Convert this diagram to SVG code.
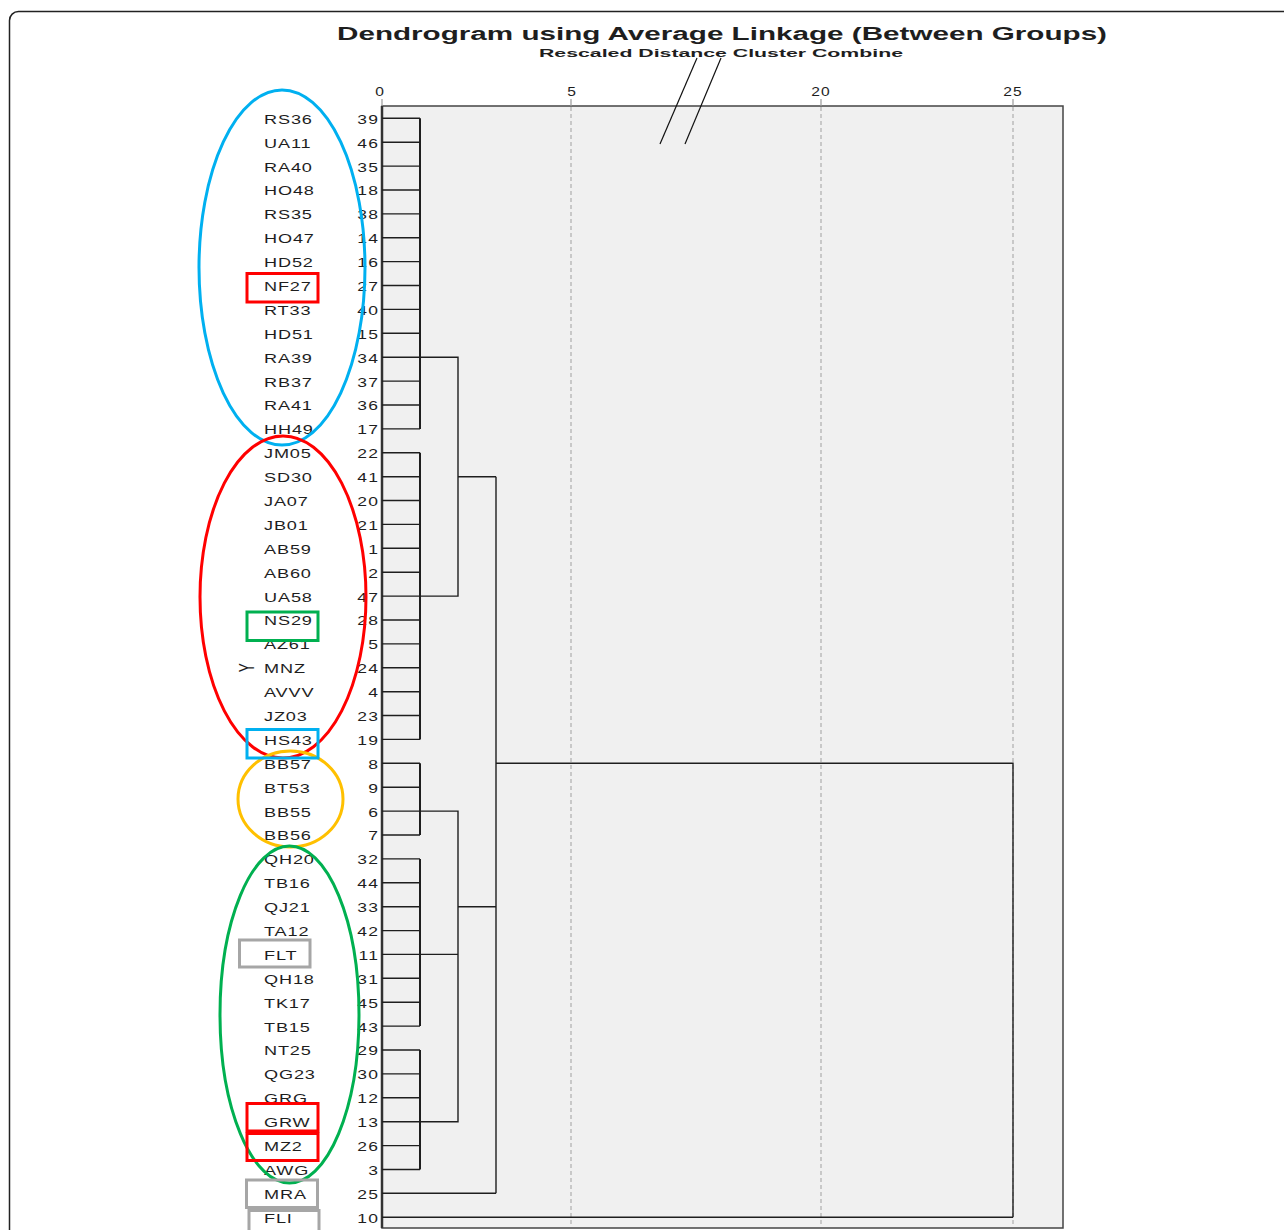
<svg xmlns="http://www.w3.org/2000/svg" width="1284" height="1230" viewBox="0 0 1284 1230">
  <style>
    text { font-family: "Liberation Sans", Arial, sans-serif; fill: #1e1e1e; }
    .title { font-size: 18px; font-weight: bold; }
    .sub { font-size: 11px; font-weight: bold; }
    .lbl { font-size: 12.5px; letter-spacing: 0.6px; transform: translate(264px, 0) scale(1.45, 1); }
    .num { font-size: 12.5px; letter-spacing: 0.8px; text-anchor: end; transform: translate(379px, 0) scale(1.4, 1); }
    .tick { font-size: 12px; letter-spacing: 0.8px; text-anchor: middle; }
    .grid { stroke: #c8c8c8; stroke-width: 2; stroke-dasharray: 4 3; fill: none; }
    .tk { stroke: #9a9a9a; stroke-width: 1.2; }
    .ln { stroke: #1e1e1e; stroke-width: 1.4; fill: none; }
    .vln { stroke: #1e1e1e; stroke-width: 2; fill: none; }
    .ring { fill: none; stroke-width: 3; }
    .tag { fill: none; stroke-width: 3; }
  </style>

  <!-- page frame -->
  <rect x="9.5" y="11.5" width="1300" height="1250" rx="9" fill="#ffffff" stroke="#222" stroke-width="1.5"/>

  <!-- headings -->
  <text class="title" x="337" y="39.5" textLength="770" lengthAdjust="spacingAndGlyphs">Dendrogram using Average Linkage (Between Groups)</text>
  <text class="sub" x="539" y="57" textLength="364" lengthAdjust="spacingAndGlyphs">Rescaled Distance Cluster Combine</text>

  <!-- plot area -->
  <g id="plot">
    <rect x="382" y="106" width="681" height="1122" fill="#f0f0f0" stroke="#444" stroke-width="1.5"/>
    <line x1="382" y1="106" x2="382" y2="1228" stroke="#333" stroke-width="2.5"/>
    <line class="grid" x1="571" y1="107" x2="571" y2="1227"/>
    <line class="grid" x1="821" y1="107" x2="821" y2="1227"/>
    <line class="grid" x1="1013" y1="107" x2="1013" y2="1227"/>
    <line class="tk" x1="382" y1="99" x2="382" y2="106"/>
    <line class="tk" x1="571" y1="99" x2="571" y2="106"/>
    <line class="tk" x1="821" y1="99" x2="821" y2="106"/>
    <line class="tk" x1="1013" y1="99" x2="1013" y2="106"/>
    <text class="tick" transform="translate(380 96) scale(1.3 1)">0</text>
    <text class="tick" transform="translate(572 96) scale(1.3 1)">5</text>
    <text class="tick" transform="translate(821 96) scale(1.3 1)">20</text>
    <text class="tick" transform="translate(1013 96) scale(1.3 1)">25</text>
  </g>

  <!-- axis break marks -->
  <g id="axis-break" stroke="#111" stroke-width="1.2">
    <line x1="697" y1="58" x2="660" y2="144"/>
    <line x1="721" y1="58" x2="685" y2="144"/>
  </g>

  <!-- dendrogram links -->
  <g id="connectors">
    <path class="ln" d="M382 118.3H420M382 142.2H420M382 166.1H420M382 190H420M382 213.9H420M382 237.8H420M382 261.6H420M382 285.5H420M382 309.4H420M382 333.3H420M382 357.2H420M382 381.1H420M382 405H420M382 428.9H420"/>
    <path class="ln" d="M382 452.8H420M382 476.7H420M382 500.5H420M382 524.4H420M382 548.3H420M382 572.2H420M382 596.1H420M382 620H420M382 643.9H420M382 667.8H420M382 691.7H420M382 715.5H420M382 739.4H420"/>
    <path class="ln" d="M382 763.3H420M382 787.2H420M382 811.1H420M382 835H420"/>
    <path class="ln" d="M382 858.9H420M382 882.8H420M382 906.7H420M382 930.6H420M382 954.4H420M382 978.3H420M382 1002.2H420M382 1026.1H420"/>
    <path class="ln" d="M382 1050H420M382 1073.9H420M382 1097.8H420M382 1121.7H420M382 1145.6H420M382 1169.5H420"/>
    <path class="ln" d="M382 1193.3H496M382 1217.2H1013"/>
    <path class="vln" d="M420 118.3V428.9M420 452.8V739.4M420 763.3V835M420 858.9V1026.1M420 1050V1169.5"/>
    <path class="ln" d="M420 357.2H458V596.1H420M458 476.7H496"/>
    <path class="ln" d="M420 811.1H458V1121.7H420M420 954.4H458M458 906.7H496"/>
    <path class="ln" d="M496 476.7V1193.3M496 763.3H1013V1217.2"/>
  </g>

  <!-- leaves: case label and case number -->
  <g id="leaves">
    <g id="leaf-RS36"><text class="lbl" y="123.8">RS36</text><text class="num" y="123.8">39</text></g>
    <g id="leaf-UA11"><text class="lbl" y="147.7">UA11</text><text class="num" y="147.7">46</text></g>
    <g id="leaf-RA40"><text class="lbl" y="171.6">RA40</text><text class="num" y="171.6">35</text></g>
    <g id="leaf-HO48"><text class="lbl" y="195.5">HO48</text><text class="num" y="195.5">18</text></g>
    <g id="leaf-RS35"><text class="lbl" y="219.4">RS35</text><text class="num" y="219.4">38</text></g>
    <g id="leaf-HO47"><text class="lbl" y="243.3">HO47</text><text class="num" y="243.3">14</text></g>
    <g id="leaf-HD52"><text class="lbl" y="267.1">HD52</text><text class="num" y="267.1">16</text></g>
    <g id="leaf-NF27"><text class="lbl" y="291">NF27</text><text class="num" y="291">27</text></g>
    <g id="leaf-RT33"><text class="lbl" y="314.9">RT33</text><text class="num" y="314.9">40</text></g>
    <g id="leaf-HD51"><text class="lbl" y="338.8">HD51</text><text class="num" y="338.8">15</text></g>
    <g id="leaf-RA39"><text class="lbl" y="362.7">RA39</text><text class="num" y="362.7">34</text></g>
    <g id="leaf-RB37"><text class="lbl" y="386.6">RB37</text><text class="num" y="386.6">37</text></g>
    <g id="leaf-RA41"><text class="lbl" y="410.5">RA41</text><text class="num" y="410.5">36</text></g>
    <g id="leaf-HH49"><text class="lbl" y="434.4">HH49</text><text class="num" y="434.4">17</text></g>
    <g id="leaf-JM05"><text class="lbl" y="458.3">JM05</text><text class="num" y="458.3">22</text></g>
    <g id="leaf-SD30"><text class="lbl" y="482.2">SD30</text><text class="num" y="482.2">41</text></g>
    <g id="leaf-JA07"><text class="lbl" y="506">JA07</text><text class="num" y="506">20</text></g>
    <g id="leaf-JB01"><text class="lbl" y="529.9">JB01</text><text class="num" y="529.9">21</text></g>
    <g id="leaf-AB59"><text class="lbl" y="553.8">AB59</text><text class="num" y="553.8">1</text></g>
    <g id="leaf-AB60"><text class="lbl" y="577.7">AB60</text><text class="num" y="577.7">2</text></g>
    <g id="leaf-UA58"><text class="lbl" y="601.6">UA58</text><text class="num" y="601.6">47</text></g>
    <g id="leaf-NS29"><text class="lbl" y="625.5">NS29</text><text class="num" y="625.5">28</text></g>
    <g id="leaf-AZ61"><text class="lbl" y="649.4">AZ61</text><text class="num" y="649.4">5</text></g>
    <g id="leaf-MNZ"><text class="lbl" y="673.3">MNZ</text><text class="num" y="673.3">24</text></g>
    <g id="leaf-AVVV"><text class="lbl" y="697.2">AVVV</text><text class="num" y="697.2">4</text></g>
    <g id="leaf-JZ03"><text class="lbl" y="721">JZ03</text><text class="num" y="721">23</text></g>
    <g id="leaf-HS43"><text class="lbl" y="744.9">HS43</text><text class="num" y="744.9">19</text></g>
    <g id="leaf-BB57"><text class="lbl" y="768.8">BB57</text><text class="num" y="768.8">8</text></g>
    <g id="leaf-BT53"><text class="lbl" y="792.7">BT53</text><text class="num" y="792.7">9</text></g>
    <g id="leaf-BB55"><text class="lbl" y="816.6">BB55</text><text class="num" y="816.6">6</text></g>
    <g id="leaf-BB56"><text class="lbl" y="840.5">BB56</text><text class="num" y="840.5">7</text></g>
    <g id="leaf-QH20"><text class="lbl" y="864.4">QH20</text><text class="num" y="864.4">32</text></g>
    <g id="leaf-TB16"><text class="lbl" y="888.3">TB16</text><text class="num" y="888.3">44</text></g>
    <g id="leaf-QJ21"><text class="lbl" y="912.2">QJ21</text><text class="num" y="912.2">33</text></g>
    <g id="leaf-TA12"><text class="lbl" y="936.1">TA12</text><text class="num" y="936.1">42</text></g>
    <g id="leaf-FLT"><text class="lbl" y="959.9">FLT</text><text class="num" y="959.9">11</text></g>
    <g id="leaf-QH18"><text class="lbl" y="983.8">QH18</text><text class="num" y="983.8">31</text></g>
    <g id="leaf-TK17"><text class="lbl" y="1007.7">TK17</text><text class="num" y="1007.7">45</text></g>
    <g id="leaf-TB15"><text class="lbl" y="1031.6">TB15</text><text class="num" y="1031.6">43</text></g>
    <g id="leaf-NT25"><text class="lbl" y="1055.5">NT25</text><text class="num" y="1055.5">29</text></g>
    <g id="leaf-QG23"><text class="lbl" y="1079.4">QG23</text><text class="num" y="1079.4">30</text></g>
    <g id="leaf-GRG"><text class="lbl" y="1103.3">GRG</text><text class="num" y="1103.3">12</text></g>
    <g id="leaf-GRW"><text class="lbl" y="1127.2">GRW</text><text class="num" y="1127.2">13</text></g>
    <g id="leaf-MZ2"><text class="lbl" y="1151.1">MZ2</text><text class="num" y="1151.1">26</text></g>
    <g id="leaf-AWG"><text class="lbl" y="1175">AWG</text><text class="num" y="1175">3</text></g>
    <g id="leaf-MRA"><text class="lbl" y="1198.8">MRA</text><text class="num" y="1198.8">25</text></g>
    <g id="leaf-FLI"><text class="lbl" y="1222.7">FLI</text><text class="num" y="1222.7">10</text></g>
  </g>

  <!-- sideways mark next to MNZ -->
  <text id="mark-y" x="0" y="0" font-size="15" text-anchor="middle" transform="translate(254 667.8) rotate(-90) scale(0.9 1.45)">Y</text>

  <!-- group rings -->
  <g id="groups">
    <ellipse id="group-blue" class="ring" cx="282" cy="267.5" rx="83" ry="177.5" stroke="#00b0f0"/>
    <ellipse id="group-red" class="ring" cx="283" cy="597" rx="83" ry="161" stroke="#ff0000"/>
    <ellipse id="group-orange" class="ring" cx="290.5" cy="799" rx="52.5" ry="48" stroke="#ffc000"/>
    <ellipse id="group-green" class="ring" cx="289.5" cy="1014.5" rx="69.5" ry="168.5" stroke="#00b050"/>
  </g>

  <!-- highlighted labels -->
  <g id="tags">
    <rect class="tag" x="247" y="273.5" width="71" height="28.5" stroke="#ff0000"/>
    <rect class="tag" x="247" y="612" width="71" height="28.5" stroke="#00b050"/>
    <rect class="tag" x="247" y="729.5" width="71" height="28.5" stroke="#00b0f0"/>
    <rect class="tag" x="239.5" y="940" width="70.5" height="27" stroke="#a6a6a6"/>
    <rect class="tag" x="247" y="1103.5" width="71" height="27.5" stroke="#ff0000"/>
    <rect class="tag" x="247" y="1133.5" width="71" height="27" stroke="#ff0000"/>
    <rect class="tag" x="246.5" y="1180" width="71" height="27.5" stroke="#a6a6a6"/>
    <rect class="tag" x="249" y="1210.5" width="70" height="30" stroke="#a6a6a6"/>
  </g>
</svg>
